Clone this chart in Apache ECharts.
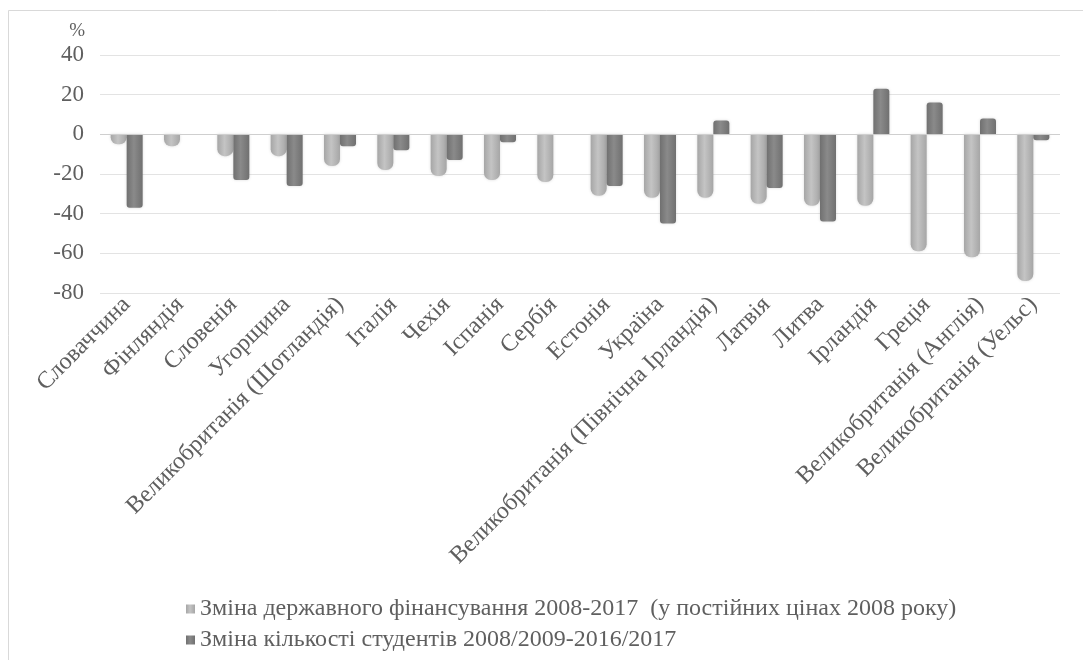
<!DOCTYPE html>
<html>
<head>
<meta charset="utf-8">
<script src="https://cdn.jsdelivr.net/npm/echarts@6/dist/echarts.min.js"></script>
<style>
html,body{margin:0;padding:0;background:#fff;}
#c{width:1083px;height:660px;}
</style>
</head>
<body>
<div id="c"></div>
<script>
const categories = ['Словаччина','Фінляндія','Словенія','Угорщина','Великобританія (Шотландія)','Італія','Чехія','Іспанія','Сербія','Естонія','Україна','Великобританія (Північна Ірландія)','Латвія','Литва','Ірландія','Греція','Великобританія (Англія)','Великобританія (Уельс)'];
const fundingChange = [-5,-6,-11,-11,-16,-18,-21,-23,-24,-31,-32,-32,-35,-36,-36,-59,-62,-74];
const studentsChange = [-37,0,-23,-26,-6,-8,-13,-4,0,-26,-45,7,-27,-44,23,16,8,-3];
const yTicks = {min:-80, max:40, interval:20};
const seriesNames = ['Зміна державного фінансування 2008-2017  (у постійних цінах 2008 року)','Зміна кількості студентів 2008/2009-2016/2017'];

const FONT = '"Liberation Serif","Times New Roman",serif';
const TXT = '#5f5f5f';

function grad(edge, mid){
  return new echarts.graphic.LinearGradient(0,0,1,0,[
    {offset:0,color:edge},{offset:0.45,color:mid},{offset:1,color:edge}
  ]);
}
function mk(vals, r){
  return vals.map(v => ({value:v, itemStyle:{borderRadius: v<0 ? [0,0,r,r] : [r,r,0,0]}}));
}

const chart = echarts.init(document.getElementById('c'), null, {renderer:'canvas'});
chart.setOption({
  animation:false,
  backgroundColor:'#fff',
  graphic:[{type:'rect', shape:{x:8.5,y:10.5,width:1090,height:700}, style:{fill:'none',stroke:'#d9d9d9',lineWidth:1}, silent:true}],
  grid:{left:100, right:23, top:55, bottom:367, containLabel:false},
  legend:{
    orient:'vertical', left:186, top:597, height:63, padding:0, itemWidth:9, itemHeight:9, itemGap:7,
    icon:'rect',
    textStyle:{fontFamily:FONT, fontSize:24, color:TXT},
    data:seriesNames
  },
  xAxis:{
    type:'category', data:categories,
    axisLine:{show:false, onZero:false}, axisTick:{show:false},
    axisLabel:{rotate:45, interval:0, margin:8, fontFamily:FONT, fontSize:24, color:TXT}
  },
  yAxis:{
    type:'value', min:yTicks.min, max:yTicks.max, interval:yTicks.interval,
    name:'%', nameLocation:'end', nameGap:14,
    nameTextStyle:{fontFamily:FONT, fontSize:19, color:TXT, align:'right', padding:[0,15,0,0]},
    axisLine:{show:false}, axisTick:{show:false},
    axisLabel:{fontFamily:FONT, fontSize:23, color:TXT, margin:16},
    splitLine:{lineStyle:{color:'#e3e3e3', width:1}}
  },
  series:[
    {name:seriesNames[0], type:'bar', data:mk(fundingChange,7), barWidth:16, barGap:'0%',
     color:'#b3b3b3',
     itemStyle:{color:grad('#a6a6a6','#c4c4c4'), shadowBlur:3, shadowColor:'rgba(0,0,0,0.15)'},
     markLine:{silent:true, symbol:'none', label:{show:false}, lineStyle:{color:'#cfcfcf', type:'solid', width:1}, data:[{yAxis:0}]}
    },
    {name:seriesNames[1], type:'bar', data:mk(studentsChange,3), barWidth:16,
     color:'#7f7f7f',
     itemStyle:{color:grad('#707070','#8a8a8a'), shadowBlur:3, shadowColor:'rgba(0,0,0,0.15)'}
    }
  ]
});
</script>
</body>
</html>
